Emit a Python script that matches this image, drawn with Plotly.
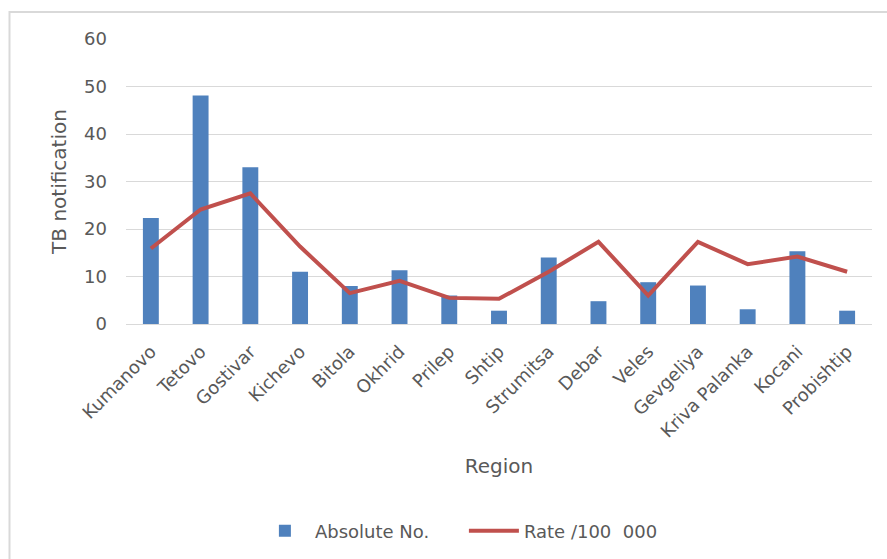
import plotly.graph_objects as go

regions = ["Kumanovo", "Tetovo", "Gostivar", "Kichevo", "Bitola", "Okhrid", "Prilep",
           "Shtip", "Strumitsa", "Debar", "Veles", "Gevgeliya", "Kriva Palanka",
           "Kocani", "Probishtip"]
absolute_no = [22.3, 48.1, 33.0, 11.0, 8.0, 11.3, 6.0, 2.8, 14.0, 4.8, 8.8, 8.1, 3.1, 15.3, 2.8]
rate_100k = [15.9, 24.1, 27.5, 16.3, 6.5, 9.1, 5.5, 5.3, 11.0, 17.3, 6.0, 17.3, 12.6, 14.2, 11.0]
y_ticks = [0, 10, 20, 30, 40, 50, 60]

FONT = "DejaVu Sans"
GREY = "#595959"

fig = go.Figure()
fig.add_trace(go.Bar(x=regions, y=absolute_no, name="Absolute No.",
                     marker=dict(color="#4F81BD", line=dict(width=0)), width=0.32))
fig.add_trace(go.Scatter(x=regions, y=rate_100k, name="Rate /100  000", mode="lines",
                         line=dict(color="#C0504D", width=4)))

fig.update_layout(
    width=887, height=559,
    margin=dict(l=126, r=15, t=39, b=235),
    paper_bgcolor="white", plot_bgcolor="white",
    font=dict(family=FONT, color=GREY, size=18),
    showlegend=True,
    legend=dict(orientation="h", xref="container", yref="container",
                x=0.523, xanchor="center", y=0.05, yanchor="middle",
                font=dict(size=18, color=GREY), itemwidth=50,
                entrywidth=144, entrywidthmode="pixels",
                traceorder="normal"),
    xaxis=dict(type="category", tickangle=-45, showgrid=False,
               showline=True, linecolor="#D9D9D9", linewidth=1,
               tickfont=dict(size=18, color=GREY), ticks="", ticklabelstandoff=9,
               title=dict(text="Region", font=dict(size=20, color=GREY), standoff=18)),
    yaxis=dict(range=[0, 60], tickvals=y_ticks, showgrid=True, gridcolor="#D9D9D9",
               gridwidth=1, zeroline=False, showline=False, ticks="",
               tickfont=dict(size=18, color=GREY), ticklabelstandoff=18,
               title=dict(text="TB notification", font=dict(size=20, color=GREY), standoff=12)),
    shapes=[dict(type="rect", xref="paper", yref="paper",
                 x0=(9.5 - 126) / 746, x1=1.2, y0=-1.0, y1=(324 - 12) / 285,
                 line=dict(color="#D9D9D9", width=2), layer="below")],
)

fig.write_html("out.html")
